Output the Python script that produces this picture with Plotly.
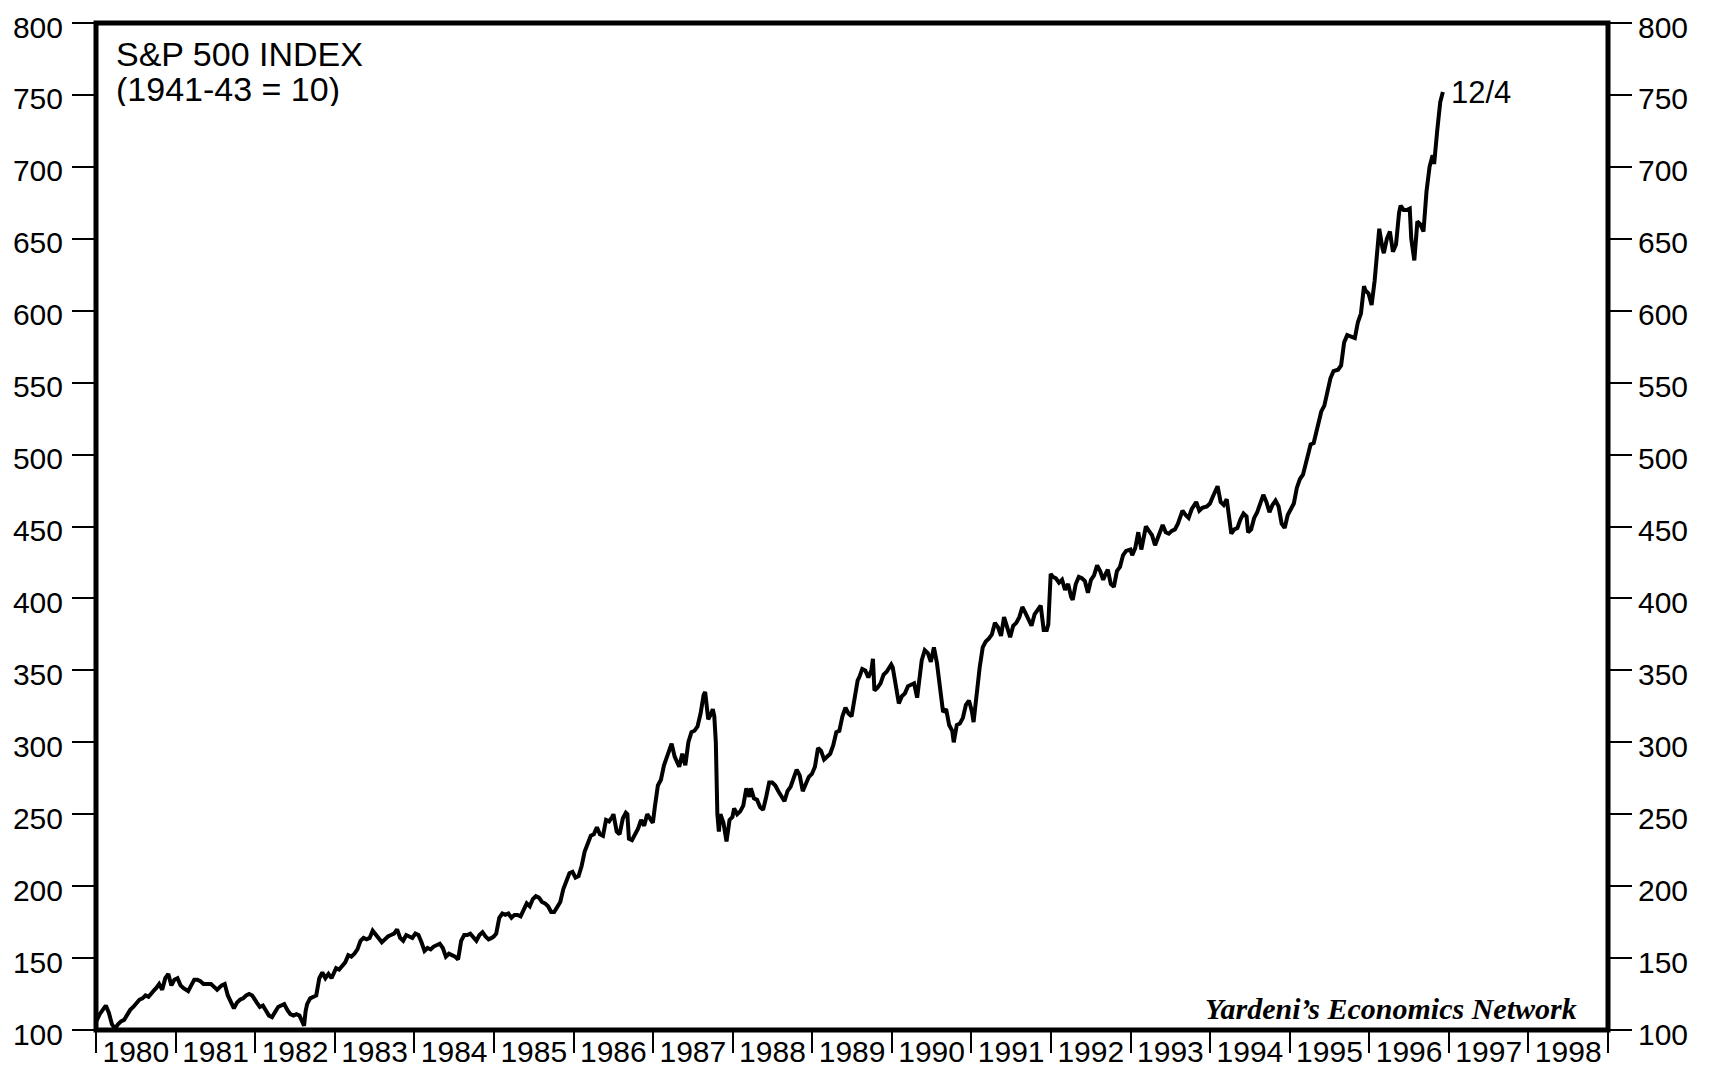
import plotly.graph_objects as go

# ---------------- data (weekly-ish S&P 500 closes) ----------------
d1980 = ["01-04","01-18","02-15","02-29","03-14","03-28","04-11","04-25","05-09","05-23","06-06","06-20",
         "07-03","07-18","08-01","08-15","08-29","09-12","09-26","10-03","10-17","10-31","11-14","11-28","12-12","12-26"]
v1980 = [106.5,111,117,112,104,101,104,106,107,111,114,116,
         118,121,122,124,123,126,128,129,132,128,136,139,131,135]

d1981 = ["01-09","01-23","02-06","02-27","03-13","03-27","04-10","04-24","05-08","05-29","06-12","06-26",
         "07-10","07-31","08-14","08-28","09-11","09-25","10-09","10-23","11-06","11-20","12-04","12-18"]
v1981 = [136,131,129,127,131,135,135,134,132,132,132,130,
         128,131,132,124,120,115,119,121,122,124,125,124]

d1982 = ["01-08","01-22","02-05","02-19","03-05","03-19","04-02","04-16","04-30","05-14","05-28","06-11",
         "06-25","07-09","07-23","08-06","08-13","08-20","08-27","09-10","09-24","10-08","10-22","11-05",
         "11-19","12-03","12-17","12-31"]
v1982 = [119,116,117,113,110,109,112,116,117,118,114,111,
         110,111,110,106,103,113,118,122,123,124,136,140,
         136,139,136,140]

d1983 = ["01-07","01-21","02-04","02-18","03-04","03-18","04-01","04-15","04-29","05-13","05-27","06-10",
         "06-24","07-08","07-22","08-05","08-19","09-02","09-16","09-30","10-14","10-28","11-11","11-25",
         "12-09","12-23"]
v1983 = [143,142,145,147,152,151,153,156,162,164,163,164,
         169,166,163,161,163,165,166,167,170,164,162,166,
         165,164]

d1984 = ["01-06","01-20","02-03","02-17","03-02","03-16","03-30","04-13","04-27","05-11","05-25","06-08",
         "06-22","07-06","07-20","08-03","08-17","08-31","09-14","09-28","10-12","10-26","11-09","11-23",
         "12-07","12-21","12-31"]
v1984 = [167,166,161,155,157,156,158,159,160,157,151,153,
         152,151,149,162,166,166,167,164,162,166,168,165,
         163,164,165]

d1985 = ["01-11","01-25","02-08","02-22","03-08","03-22","04-05","04-19","05-03","05-17","05-31","06-14",
         "06-28","07-12","07-26","08-09","08-23","09-06","09-20","10-04","10-18","11-01","11-15","11-29",
         "12-13","12-27"]
v1985 = [167,178,181,180,181,178,180,180,179,184,188,186,
         191,193,192,189,188,186,182,182,186,189,198,203,
         209,210]

d1986 = ["01-10","01-24","02-07","02-21","03-07","03-21","04-04","04-18","05-02","05-16","05-30","06-13",
         "06-27","07-03","07-18","07-31","08-15","08-29","09-05","09-12","09-26","10-10","10-24","11-07",
         "11-21","12-05","12-19","12-31"]
v1986 = [206,207,214,224,229,235,236,241,236,235,246,245,
         248,250,238,236,247,251,250,233,232,236,240,246,
         242,250,246,244]

d1987 = ["01-09","01-23","02-06","02-20","03-06","03-20","03-27","04-10","04-24","05-01","05-15","05-29",
         "06-12","06-26","07-10","07-24","08-07","08-21","08-28","09-11","09-25","10-02","10-09","10-16",
         "10-23","10-30","11-06","11-20","12-04","12-18","12-31"]
v1987 = [255,270,274,284,290,297,299,290,284,283,292,284,
         300,307,308,311,320,333,335,316,320,323,318,300,
         250,238,250,244,231,246,248]

d1988 = ["01-08","01-22","02-05","02-19","03-04","03-18","03-25","04-08","04-22","05-06","05-20","06-03",
         "06-17","07-01","07-15","07-29","08-12","08-26","09-09","09-23","10-07","10-21","11-04","11-18",
         "12-02","12-16","12-30"]
v1988 = [254,250,252,256,268,262,268,261,260,255,253,262,
         272,272,270,266,262,259,266,269,275,281,277,266,
         271,276,278]

d1989 = ["01-13","01-27","02-10","02-24","03-10","03-24","04-07","04-21","05-05","05-19","06-02","06-16",
         "06-30","07-14","07-28","08-04","08-18","09-01","09-15","09-29","10-06","10-13","10-27","11-10",
         "11-24","12-08","12-29"]
v1989 = [283,296,294,288,290,292,298,307,308,318,324,320,
         318,330,343,345,351,350,345,350,358,336,338,341,
         347,349,354]

d1990 = ["01-05","01-19","02-02","02-16","03-02","03-16","03-30","04-13","04-27","05-11","05-18","06-01",
         "06-15","06-29","07-13","07-27","08-10","08-24","09-07","09-21","10-05","10-12","10-26","11-09",
         "11-23","12-07","12-21"]
v1990 = [352,338,327,332,334,339,340,341,331,350,357,364,
         362,356,366,355,338,321,323,312,308,300,312,313,
         317,326,329]

d1991 = ["01-04","01-11","01-25","02-08","02-22","03-08","03-22","04-05","04-19","05-03","05-17","05-31",
         "06-14","06-28","07-12","07-26","08-09","08-23","09-06","09-20","10-04","10-18","11-01","11-15",
         "11-29","12-13","12-20","12-31"]
v1991 = [321,314,336,352,366,370,372,375,383,380,374,387,
         380,373,381,383,387,394,390,385,381,389,392,395,
         378,378,382,417]

d1992 = ["01-10","01-24","02-07","02-21","03-06","03-20","04-03","04-10","04-24","05-08","05-22","06-05",
         "06-19","07-03","07-17","07-31","08-14","08-28","09-11","09-18","10-02","10-16","10-30","11-13",
         "11-27","12-11","12-31"]
v1992 = [415,414,411,413,406,410,401,399,410,415,414,412,
         404,413,416,423,419,413,418,420,410,408,419,422,
         430,433,434]

d1993 = ["01-08","01-22","02-05","02-19","03-05","03-12","03-26","04-09","04-23","05-07","05-21","05-28",
         "06-11","06-25","07-09","07-23","08-06","08-27","09-10","09-24","10-08","10-29","11-12","11-26",
         "12-17","12-31"]
v1993 = [430,435,446,434,445,450,447,444,437,443,450,451,
         446,445,447,448,452,461,458,456,462,467,461,463,
         464,466]

d1994 = ["01-14","01-28","02-04","02-18","03-04","03-18","04-01","04-08","04-22","05-06","05-20","06-03",
         "06-17","06-24","07-08","07-22","08-05","08-26","09-02","09-16","09-30","10-14","10-28","11-11",
         "11-25","12-09","12-23"]
v1994 = [471,476,478,467,465,469,452,445,448,449,455,459,
         457,446,448,456,460,470,472,467,460,465,468,464,
         452,449,458]

d1995 = ["01-06","01-20","02-03","02-17","03-03","03-24","04-07","04-21","05-12","05-26","06-09","06-23",
         "07-07","07-21","08-11","08-25","09-08","09-22","10-06","10-27","11-10","11-24","12-08","12-15",
         "12-29"]
v1995 = [462,466,477,483,486,500,507,508,522,530,534,543,
         553,558,559,562,578,583,582,581,592,598,617,614,
         612]

d1996 = ["01-12","01-26","02-09","02-16","03-01","03-08","03-22","04-05","04-19","05-03","05-17","05-24",
         "06-07","06-21","07-05","07-12","07-26","08-09","08-23","09-06","09-20","10-04","10-18","10-25",
         "11-08","11-22","12-04"]
v1996 = [604,621,650,657,644,640,650,655,641,646,668,673,
         670,670,671,650,635,662,660,655,683,700,708,702,
         725,745,752]

y_ticks = list(range(100, 801, 50))
title_line1 = "S&P 500 INDEX"
title_line2 = "(1941-43 = 10)"
end_label = "12/4"
source_label = "Yardeni\u2019s Economics Network"

# ---------------- assemble ----------------
periods = [(1980, d1980, v1980), (1981, d1981, v1981), (1982, d1982, v1982), (1983, d1983, v1983),
           (1984, d1984, v1984), (1985, d1985, v1985), (1986, d1986, v1986), (1987, d1987, v1987),
           (1988, d1988, v1988), (1989, d1989, v1989), (1990, d1990, v1990), (1991, d1991, v1991),
           (1992, d1992, v1992), (1993, d1993, v1993), (1994, d1994, v1994), (1995, d1995, v1995),
           (1996, d1996, v1996)]
dates, values = [], []
for yr, ds, vs in periods:
    assert len(ds) == len(vs), yr
    dates += [f"{yr}-{d}" for d in ds]
    values += vs

FONT = "Liberation Sans, Arial, Helvetica, sans-serif"

fig = go.Figure()
fig.add_trace(go.Scatter(x=dates, y=values, mode="lines",
                         line=dict(color="black", width=4), showlegend=False,
                         hoverinfo="x+y"))
# invisible trace to activate the right-hand axis
fig.add_trace(go.Scatter(x=[dates[0]], y=[values[0]], yaxis="y2", mode="lines",
                         line=dict(width=0), showlegend=False, hoverinfo="skip"))

yax = dict(range=[100, 800], tickvals=y_ticks, ticks="outside", ticklen=23, tickwidth=1.5,
           tickcolor="black", showgrid=False, zeroline=False, showline=False,
           tickfont=dict(family=FONT, size=30, color="black"), fixedrange=True,
           automargin=False, ticklabeloverflow="allow", ticklabelshift=4)

fig.update_layout(
    width=1695, height=1062,
    margin=dict(l=88, r=95, t=15, b=40),
    paper_bgcolor="white", plot_bgcolor="white",
    xaxis=dict(type="date", range=["1980-01-01", "1999-01-01"],
               tick0="1980-01-01", dtick="M12", tickformat="%Y", ticklabelmode="period",
               ticks="outside", ticklen=22, tickwidth=1.5, tickcolor="black",
               showgrid=False, zeroline=False, showline=False,
               tickfont=dict(family=FONT, size=30, color="black"),
               ticklabelstandoff=-27, automargin=False, ticklabeloverflow="allow"),
    yaxis=dict(**yax, side="left", ticklabelstandoff=3),
    yaxis2=dict(**yax, side="right", overlaying="y", matches="y"),
    shapes=[dict(type="rect", xref="paper", yref="paper", x0=0, x1=1, y0=0, y1=1,
                 line=dict(color="black", width=5), fillcolor="rgba(0,0,0,0)", layer="above")],
    annotations=[
        dict(text=title_line1, xref="paper", yref="paper", x=0.0117, y=0.969,
             xanchor="left", yanchor="middle", showarrow=False, height=34,
             font=dict(family=FONT, size=34, color="black")),
        dict(text=title_line2, xref="paper", yref="paper", x=0.0117, y=0.934,
             xanchor="left", yanchor="middle", showarrow=False, height=34,
             font=dict(family=FONT, size=34, color="black")),
        dict(text=end_label, x=dates[-1], y=values[-1], xref="x", yref="y",
             xanchor="left", yanchor="middle", xshift=6, showarrow=False,
             font=dict(family=FONT, size=31, color="black")),
        dict(text=f"<b><i>{source_label}</i></b>", xref="paper", yref="paper", x=0.981, y=0.021,
             xanchor="right", yanchor="middle", showarrow=False,
             font=dict(family="Liberation Serif, Times New Roman, serif", size=30, color="black")),
    ],
)

fig.write_html("out.html")
